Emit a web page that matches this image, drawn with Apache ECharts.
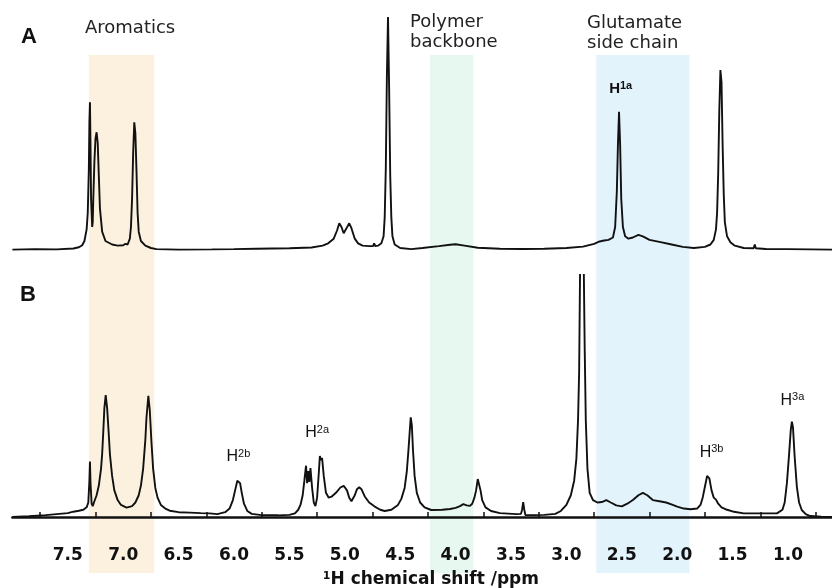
<!DOCTYPE html>
<html lang="en">
<head>
    <meta charset="UTF-8">
    <title>1H NMR</title>
    <script src="https://cdn.jsdelivr.net/npm/echarts@6/dist/echarts.min.js"></script>
    <style>
        html, body { margin: 0; padding: 0; background: #fff; }
        #chart { width: 832px; height: 588px; }
    </style>
</head>
<body>
<div id="chart"></div>
<script>
    // spectrum A: [ppm, intensity]
    var spectrumA = [
        [8.00, 0.3], [7.80, 0.5], [7.60, 0.4], [7.45, 0.8], [7.40, 1.3], [7.37, 2.2], [7.35, 4], [7.33, 9],
        [7.32, 16], [7.31, 35], [7.305, 55], [7.30, 63.5], [7.295, 45], [7.29, 22], [7.28, 10], [7.275, 12],
        [7.27, 22], [7.26, 38], [7.25, 48], [7.24, 50.6], [7.23, 46], [7.22, 32], [7.21, 18], [7.19, 8],
        [7.16, 4], [7.10, 2.5], [7.05, 2], [7.00, 2.2], [6.98, 2.8], [6.96, 2.5], [6.95, 3], [6.94, 5],
        [6.93, 10], [6.92, 22], [6.91, 42], [6.90, 54.9], [6.89, 50], [6.88, 34], [6.87, 16], [6.86, 8],
        [6.84, 4], [6.80, 2], [6.75, 1], [6.70, 0.5], [6.5, 0.3], [6.2, 0.4], [6.0, 0.5], [5.8, 0.7],
        [5.5, 0.9], [5.3, 1.2], [5.20, 2], [5.15, 3], [5.10, 5], [5.07, 8.5], [5.05, 11.6], [5.03, 10],
        [5.01, 7.3], [4.99, 9], [4.96, 11.6], [4.94, 9.5], [4.91, 5], [4.88, 3], [4.84, 2], [4.78, 1.8],
        [4.745, 1.8], [4.735, 3], [4.725, 1.8], [4.70, 2], [4.67, 3], [4.65, 6], [4.64, 14], [4.63, 35],
        [4.62, 75], [4.61, 100], [4.60, 70], [4.59, 32], [4.58, 14], [4.57, 6], [4.55, 2.5], [4.50, 1],
        [4.40, 0.5], [4.30, 1], [4.15, 1.8], [4.05, 2.4], [4.00, 2.6], [3.92, 2], [3.80, 1.1], [3.60, 0.7],
        [3.40, 0.6], [3.20, 0.7], [3.00, 1], [2.85, 1.6], [2.75, 2.8], [2.70, 3.8], [2.66, 4.2], [2.62, 4.5],
        [2.58, 5.5], [2.56, 10], [2.545, 25], [2.535, 45], [2.525, 59.4], [2.515, 45], [2.505, 22], [2.49, 10],
        [2.47, 6], [2.44, 5], [2.40, 5.5], [2.35, 6.6], [2.31, 6], [2.25, 4.5], [2.15, 3.5], [2.05, 2.5],
        [1.95, 1.5], [1.85, 1], [1.75, 1.5], [1.70, 2.5], [1.67, 4.5], [1.65, 9], [1.64, 16], [1.63, 33],
        [1.62, 60], [1.61, 77.3], [1.60, 72], [1.59, 45], [1.58, 24], [1.57, 12], [1.55, 6], [1.52, 3.5],
        [1.48, 2], [1.40, 1], [1.31, 0.9], [1.30, 2.5], [1.29, 0.9], [1.2, 0.6], [1.0, 0.5], [0.8, 0.4], [0.6, 0.3]
    ]

    // spectrum B: [ppm, intensity], the 2.85 peak runs off the top
    var spectrumB = [
        [8.00, 0], [7.85, 0.3], [7.70, 0.8], [7.60, 1.2], [7.50, 1.6], [7.45, 2.2], [7.40, 2.6], [7.36, 3.0],
        [7.33, 4.0], [7.315, 6], [7.305, 15], [7.30, 22.9], [7.295, 14], [7.285, 5.5], [7.275, 4.5], [7.26, 6.5],
        [7.24, 9], [7.22, 13], [7.20, 20], [7.19, 26], [7.18, 35], [7.17, 45], [7.158, 50.4], [7.145, 45],
        [7.13, 34], [7.12, 26], [7.10, 17], [7.08, 11], [7.05, 7], [7.02, 5], [6.97, 3.9], [6.92, 4.5],
        [6.89, 6], [6.86, 9], [6.84, 13], [6.82, 20], [6.80, 32], [6.79, 41], [6.773, 50.1], [6.76, 44],
        [6.745, 31], [6.73, 20], [6.71, 12], [6.69, 8], [6.66, 5], [6.62, 3.5], [6.58, 2.6], [6.50, 2],
        [6.40, 1.8], [6.30, 1.6], [6.22, 1.5], [6.15, 1.2], [6.08, 2], [6.04, 3.5], [6.01, 7], [5.99, 11],
        [5.97, 15], [5.96, 15.6], [5.945, 14], [5.93, 10], [5.91, 5.5], [5.88, 2.5], [5.84, 1.3], [5.75, 0.8],
        [5.60, 0.7], [5.50, 0.9], [5.45, 1.5], [5.42, 3], [5.40, 5], [5.38, 9], [5.365, 15], [5.35, 21.2],
        [5.34, 14], [5.33, 19], [5.32, 14.5], [5.31, 20.2], [5.295, 12], [5.28, 6], [5.265, 4.5], [5.25, 8],
        [5.235, 18], [5.225, 25.2], [5.215, 23.5], [5.205, 24.4], [5.19, 17], [5.17, 10], [5.145, 8], [5.12, 8.4],
        [5.08, 10], [5.04, 12.2], [5.01, 12.9], [4.98, 11], [4.96, 8], [4.94, 6.5], [4.91, 9], [4.89, 11.5],
        [4.87, 12.3], [4.85, 11.5], [4.82, 8.5], [4.78, 6], [4.73, 4.3], [4.68, 3], [4.64, 2.5], [4.58, 3],
        [4.52, 5], [4.49, 7.5], [4.46, 12], [4.44, 19], [4.425, 28], [4.41, 38], [4.405, 41.2], [4.395, 38],
        [4.385, 28], [4.37, 17], [4.35, 10], [4.32, 6], [4.28, 4], [4.22, 2.9], [4.12, 3], [4.05, 3.3],
        [4.00, 3.8], [3.96, 4.5], [3.93, 5.3], [3.90, 4.8], [3.87, 4.6], [3.85, 5.5], [3.83, 8], [3.815, 11],
        [3.80, 15.7], [3.79, 15], [3.775, 11], [3.76, 7], [3.73, 4], [3.68, 2.5], [3.60, 1.6], [3.45, 1.2],
        [3.41, 1.3], [3.40, 3], [3.39, 6.1], [3.38, 3], [3.37, 0.8], [3.30, 0.8], [3.20, 0.9], [3.10, 1.3],
        [3.05, 2.5], [3.00, 5], [2.96, 9], [2.93, 15], [2.91, 24], [2.895, 40], [2.885, 60], [2.875, 110],
        [2.86, 110], [2.845, 110], [2.835, 70], [2.825, 40], [2.81, 20], [2.79, 10], [2.76, 7], [2.72, 6],
        [2.68, 6.2], [2.64, 7], [2.60, 6], [2.55, 4.8], [2.50, 4.4], [2.45, 5.5], [2.40, 7], [2.35, 9],
        [2.31, 10], [2.27, 9], [2.22, 7], [2.16, 6.5], [2.10, 6], [2.04, 5], [2.00, 4.3], [1.94, 3.5],
        [1.88, 3.2], [1.82, 3.5], [1.79, 5], [1.77, 8], [1.75, 12.5], [1.73, 17], [1.72, 17.6], [1.71, 16],
        [1.69, 11], [1.67, 8], [1.65, 7.2], [1.63, 5.5], [1.60, 4], [1.55, 3], [1.50, 2.3], [1.40, 1.5],
        [1.25, 1.5], [1.10, 1.5], [1.05, 3], [1.03, 6], [1.01, 14], [0.99, 26], [0.975, 36], [0.965, 39.4],
        [0.955, 37], [0.94, 25], [0.92, 12.5], [0.90, 6], [0.876, 2.9], [0.84, 1.2], [0.80, 0.4], [0.70, 0.1], [0.60, 0]
    ]

    // shaded ppm ranges
    var regionNames = ['Aromatics', 'Polymer\nbackbone', 'Glutamate\nside chain']
    var regionFrom = [7.31, 4.23, 2.73]
    var regionTo = [6.72, 3.84, 1.89]

    // peak assignments
    var peakNamesA = ['1a']
    var peakNamesB = ['2b', '2a', '3b', '3a']

    var AX_MIN = 0.5, AX_MAX = 8.0
    var LEFT = 12.4, WIDTH = 831

    var chart = echarts.init(document.getElementById('chart'))

    function hiddenX(i) {
        return {gridIndex: i, type: 'value', min: AX_MIN, max: AX_MAX, inverse: true, show: false}
    }

    function peakLabel(name, coord, size, weight) {
        return {
            coord: coord,
            label: {
                show: true,
                position: 'inside',
                formatter: '{h|H}{s|' + name + '}',
                rich: {
                    h: {fontFamily: 'Liberation Sans', fontSize: size, fontWeight: weight, color: '#111', lineHeight: size + 2},
                    s: {fontFamily: 'Liberation Sans', fontSize: Math.round(size * 0.7), fontWeight: weight, color: '#111', verticalAlign: 'top', lineHeight: size + 2}
                }
            }
        }
    }

    var option = {
        animation: false,
        backgroundColor: '#fff',
        grid: [
            {left: LEFT, width: WIDTH, top: 10, height: 245, outerBoundsMode: 'none'},
            {left: LEFT, width: WIDTH, top: 275, height: 263.8, outerBoundsMode: 'none'},
            {left: LEFT, width: WIDTH, top: 55, height: 518, outerBoundsMode: 'none'}
        ],
        xAxis: [
            hiddenX(0),
            {
                gridIndex: 1, type: 'value', min: AX_MIN, max: AX_MAX, interval: 0.5, inverse: true, z: 5,
                axisLine: {lineStyle: {color: '#111', width: 2.5}},
                axisTick: {show: false, inside: true},
                minorTick: {show: true, splitNumber: 2, length: 5, lineStyle: {color: '#111', width: 1.5}},
                splitLine: {show: false},
                axisLabel: {
                    margin: 8,
                    fontFamily: 'DejaVu Sans', fontWeight: 'bold', fontSize: 17, color: '#111',
                    formatter: function (v) {
                        return (v > 0.99 && v < 7.51) ? v.toFixed(1) : ''
                    }
                },
                name: '{s|1}H chemical shift /ppm',
                nameLocation: 'middle',
                nameGap: 32,
                nameTextStyle: {
                    fontFamily: 'DejaVu Sans', fontWeight: 'bold', fontSize: 17, color: '#111',
                    padding: [0, 0, 0, 6],
                    rich: {s: {fontFamily: 'DejaVu Sans', fontWeight: 'bold', fontSize: 11, verticalAlign: 'top', color: '#111'}}
                }
            },
            hiddenX(2)
        ],
        yAxis: [
            {gridIndex: 0, type: 'value', min: -2, max: 103, show: false},
            {gridIndex: 1, type: 'value', min: -9, max: 100, show: false},
            {gridIndex: 2, type: 'value', min: 0, max: 1, show: false}
        ],
        graphic: [
            {type: 'text', left: 21, top: 26, style: {text: 'A', font: 'bold 22px "Liberation Sans"', fill: '#111'}},
            {type: 'text', left: 20, top: 284, style: {text: 'B', font: 'bold 22px "Liberation Sans"', fill: '#111'}},
            {type: 'text', left: 85, top: 19, style: {text: regionNames[0], font: '18px "DejaVu Sans"', fill: '#222'}},
            {type: 'text', left: 410, top: 12, style: {text: regionNames[1], font: '18px "DejaVu Sans"', fill: '#222', lineHeight: 20}},
            {type: 'text', left: 587, top: 13, style: {text: regionNames[2], font: '18px "DejaVu Sans"', fill: '#222', lineHeight: 20}}
        ],
        series: [
            {
                type: 'line', xAxisIndex: 2, yAxisIndex: 2, z: 1,
                data: [[AX_MIN, 0], [AX_MAX, 0]], symbol: 'none', lineStyle: {width: 0}, silent: true,
                markArea: {
                    silent: true,
                    data: [
                        [{xAxis: regionFrom[1], itemStyle: {color: '#e6f8ef'}}, {xAxis: regionTo[1]}],
                        [{xAxis: regionFrom[2], itemStyle: {color: '#e3f3fc'}}, {xAxis: regionTo[2]}]
                    ]
                }
            },
            {
                name: 'A', type: 'line', xAxisIndex: 0, yAxisIndex: 0, data: spectrumA,
                symbol: 'none', lineStyle: {color: '#111', width: 1.9}, z: 3,
                markPoint: {
                    symbol: 'circle', symbolSize: 0,
                    data: [peakLabel(peakNamesA[0], [2.51, 69], 15, 'bold')]
                }
            },
            {
                name: 'B', type: 'line', xAxisIndex: 1, yAxisIndex: 1, data: spectrumB,
                symbol: 'none', lineStyle: {color: '#111', width: 1.9}, z: 3,
                markPoint: {
                    symbol: 'circle', symbolSize: 0,
                    data: [
                        peakLabel(peakNamesB[0], [5.96, 24.8], 16, 'normal'),
                        peakLabel(peakNamesB[1], [5.25, 34.7], 16, 'normal'),
                        peakLabel(peakNamesB[2], [1.69, 26.6], 16, 'normal'),
                        peakLabel(peakNamesB[3], [0.96, 48.3], 16, 'normal')
                    ]
                }
            },
            {
                type: 'line', xAxisIndex: 2, yAxisIndex: 2, z: 10,
                data: [[AX_MIN, 0], [AX_MAX, 0]], symbol: 'none', lineStyle: {width: 0}, silent: true,
                markArea: {
                    silent: true,
                    data: [
                        [{xAxis: regionFrom[0], itemStyle: {color: 'rgba(246,208,150,0.3)'}}, {xAxis: regionTo[0]}]
                    ]
                }
            }
        ]
    }
    chart.setOption(option)
</script>
</body>
</html>
